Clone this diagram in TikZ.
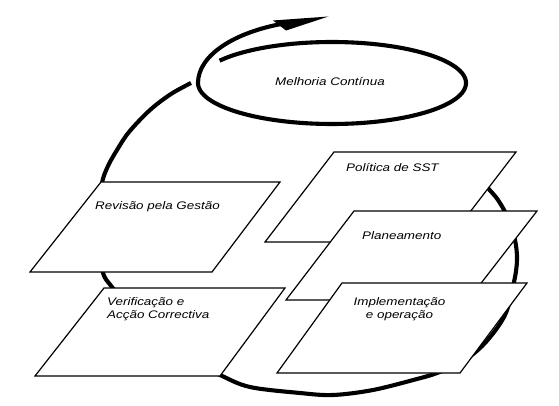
\documentclass[tikz,border=0pt]{standalone}
\usepackage{fontspec}
\newfontfamily\lblfont{Liberation Sans}[FakeStretch=1.22]
\begin{document}
\begin{tikzpicture}[x=1pt,y=-1pt]
\tikzset{
  panel/.style={draw=black, line width=1.2pt, fill=white, line join=miter},
  loopline/.style={line width=4.1pt, draw=black},
  lbl/.style={font=\lblfont\itshape\fontsize{11}{12.5}\selectfont, inner sep=0pt, anchor=base west},
}
\fill[white] (0,0) rectangle (559,406);
\useasboundingbox (0,0) rectangle (559,406);

% big loop (open, clockwise from behind "Politica")
\draw[loopline] plot[smooth, tension=0.55] coordinates {
  (476,174) (487,187) (498,200) (508,218) (515,240) (517,260) (514,282)
  (505,315) (485,343) (462,362) (437,373) (417,379) (373,390) (333,395)
  (300,393) (250,387) (220,375) (175,353) (140,320) (112,287) (103,273)
  (98,245) (98,215) (102,183) (108,166) (117,150) (129,132) (150,110)
  (171,94) (191,83)};

% panels
\draw[panel] (101,182) -- (280,182) -- (212,272) -- (30,272) -- cycle;
\draw[panel] (104,288) -- (285,288) -- (220,376) -- (35,376) -- cycle;
\draw[panel] (334,152) -- (516,152) -- (447,242) -- (265,242) -- cycle;
\draw[panel] (354,211) -- (537,211) -- (468,300) -- (286,300) -- cycle;
\draw[panel] (342,283) -- (527,283) -- (460,373) -- (277,373) -- cycle;

% continual-improvement spiral with arrow
\draw[loopline] plot[domain=147:-180, samples=150] ({332+134*cos(\x)},{83-41*sin(\x)})
  .. controls (198,55) and (235,32) .. (284,23.5);
\coordinate (hb1) at (273,20.5);
\coordinate (tip) at (328.5,16.5);
\coordinate (hb2) at (286,30.5);
\fill[black] (hb1) -- (tip) -- (hb2) -- cycle;

% labels
\node[lbl] (mel) at (275,86) {Melhoria Contínua};
\node[lbl] (rev) at (95,209.5) {Revisão pela Gestão};
\node[lbl, align=left] (ver) at (107,318) {Verificação e\\Acção Correctiva};
\node[lbl] (pol) at (346,171.5) {Política de SST};
\node[lbl] (pla) at (362,239) {Planeamento};
\node[lbl, anchor=base, align=center] (imp) at (399.5,318) {Implementação\\e operação};
\end{tikzpicture}
\end{document}
